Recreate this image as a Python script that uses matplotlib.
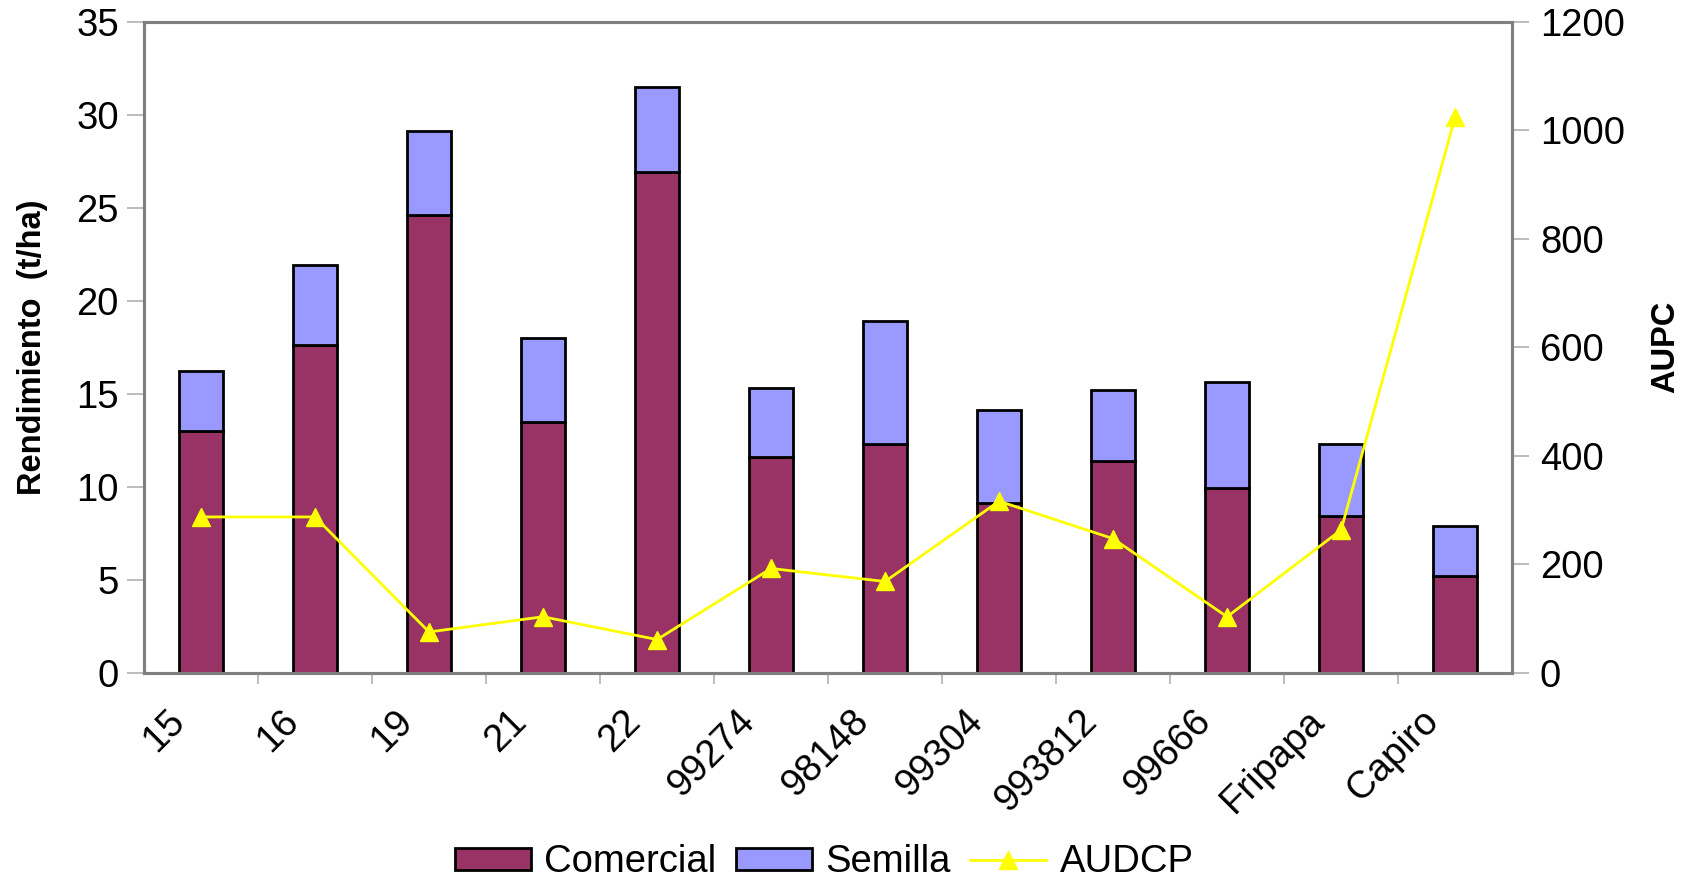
"""Yield (commercial + seed) by clone with AUDCP overlay."""

import matplotlib

matplotlib.use("Agg")
import matplotlib.pyplot as plt
import matplotlib.transforms as mtransforms
import numpy as np

plt.rcParams["font.family"] = ["Liberation Sans", "DejaVu Sans"]

CLONES = ["15", "16", "19", "21", "22", "99274", "98148", "99304", "993812", "99666", "Fripapa", "Capiro"]
COMERCIAL = [13.0, 17.6, 24.6, 13.5, 26.9, 11.6, 12.3, 9.1, 11.4, 9.9, 8.4, 5.2]
SEMILLA = [3.2, 4.3, 4.5, 4.5, 4.6, 3.7, 6.6, 5.0, 3.8, 5.7, 3.9, 2.7]
AUDCP = [287, 287, 75, 103, 61, 192, 168, 316, 247, 103, 263, 1024]

COMERCIAL_COLOUR = "#993366"
SEMILLA_COLOUR = "#9999FF"
LINE_COLOUR = "#FFFF00"
SPINE = "#808080"
TICK = "#B0B0B0"
TICK_SIZE = 27.5

figure = plt.figure(figsize=(16.82, 8.81), dpi=100)
axis = figure.add_axes([0.0856, 0.2365, 0.8134, 0.739])
x = np.arange(len(CLONES))

axis.bar(x, COMERCIAL, width=0.39, color=COMERCIAL_COLOUR, edgecolor="black", linewidth=2, label="Comercial", zorder=2)
axis.bar(x, SEMILLA, width=0.39, bottom=COMERCIAL, color=SEMILLA_COLOUR, edgecolor="black", linewidth=2, label="Semilla", zorder=2)
axis.set_xlim(-0.5, len(CLONES) - 0.5)
axis.set_ylim(0, 35)
axis.set_yticks(range(0, 36, 5))
axis.set_ylabel("Rendimiento  (t/ha)", fontsize=23.5, fontweight="bold", labelpad=20)

# category labels at centres, tick marks on the boundaries
axis.set_xticks(x)
axis.set_xticklabels(CLONES, rotation=45, ha="right", va="center", rotation_mode="anchor")
axis.set_xticks(np.arange(0.5, len(CLONES) - 1, 1.0), minor=True)
axis.tick_params(axis="x", which="major", length=0, pad=31, labelsize=TICK_SIZE)
axis.tick_params(axis="x", which="minor", length=8, width=1.2, color=TICK, direction="out")
axis.tick_params(axis="y", length=12, width=1.2, color=TICK, labelsize=TICK_SIZE, pad=6)
offset = mtransforms.ScaledTranslation(-0.22, 0, figure.dpi_scale_trans)
for label in axis.get_xticklabels():
    label.set_transform(label.get_transform() + offset)

for spine in axis.spines.values():
    spine.set_color(SPINE)
    spine.set_linewidth(2.2)

right = axis.twinx()
right.plot(x, AUDCP, color=LINE_COLOUR, linewidth=2, marker="^", markersize=13, markerfacecolor=LINE_COLOUR, markeredgecolor=LINE_COLOUR, label="AUDCP", zorder=3)
right.set_ylim(0, 1200)
right.set_yticks(range(0, 1201, 200))
right.tick_params(axis="y", length=12, width=1.2, color=TICK, labelsize=TICK_SIZE, pad=8)
right.set_ylabel("AUPC", fontsize=23.5, fontweight="bold", labelpad=18)
for spine in right.spines.values():
    spine.set_color(SPINE)
    spine.set_linewidth(2.2)

handles = axis.get_legend_handles_labels()[0] + right.get_legend_handles_labels()[0]
labels = ["Comercial", "Semilla", "AUDCP"]
figure.legend(handles, labels, loc="center", bbox_to_anchor=(0.49, 0.021), ncol=3, frameon=False,
              fontsize=TICK_SIZE, handlelength=2.0, handleheight=0.5, columnspacing=0.5, handletextpad=0.35,
              borderpad=0.2)

figure.savefig("out.png", dpi=100, facecolor="white")
